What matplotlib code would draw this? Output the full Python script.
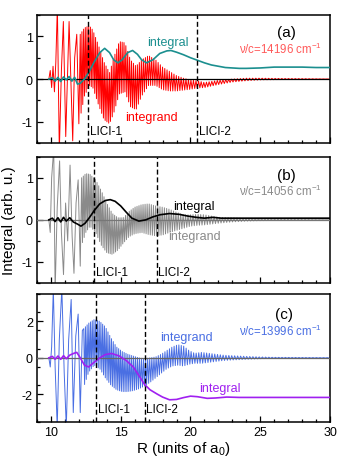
import numpy as np
import matplotlib
matplotlib.use("Agg")
import matplotlib.pyplot as plt

plt.rcParams['font.family'] = ['Liberation Sans', 'DejaVu Sans']
plt.rcParams['mathtext.fontset'] = 'custom'
plt.rcParams['mathtext.rm'] = 'Liberation Sans'
plt.rcParams['axes.unicode_minus'] = False

# ---- data ----
# local oscillation length of the integrand (shared by all panels)
per_R = [12.0, 15.0, 20.0, 25.0, 30.0]
per_len = [0.12, 0.13, 0.18, 0.23, 0.26]

# (a) nu/c = 14196
a_spike_R = [9.85, 9.95, 10.05, 10.15, 10.25, 10.35, 10.46, 10.6, 10.75, 10.89, 11.06, 11.18,
             11.3, 11.45, 11.56, 11.7, 11.85, 12.0]
a_spike_v = [0.0, 0.2, -0.2, 0.3, -0.3, 0.4, 1.7, -1.7, 0.2, 1.35, -1.35, 0.0,
             1.35, -0.3, -1.45, 0.5, 1.05, -1.05]
a_env_R = [12.1, 12.4, 12.75, 13.0, 13.4, 13.8, 14.2, 14.5, 14.9, 15.3, 15.7, 16.1, 16.5, 17.0,
           17.5, 18.0, 18.5, 19.0, 19.5, 20.0, 20.5, 21.0, 22.0, 23.0, 24.0, 25.0, 26.0, 28.0, 30.0]
a_env_U = [1.05, 1.2, 1.25, 1.15, 0.8, 0.4, 0.15, 0.5, 0.88, 0.85, 0.45, 0.3, 0.45, 0.55,
           0.45, 0.28, 0.18, 0.08, 0.02, -0.02, -0.04, -0.08, -0.03, 0.0, 0.02, 0.02, 0.015, 0.01, 0.0]
a_env_L = [-0.9, -0.4, -0.15, -0.2, -0.6, -0.95, -1.05, -0.8, -0.35, -0.3, -0.65, -0.72, -0.4,
           -0.15, -0.15, -0.25, -0.28, -0.28, -0.26, -0.24, -0.21, -0.2, -0.13, -0.07, -0.04,
           -0.02, -0.015, -0.01, 0.0]
a_int_R = [9.85, 10.1, 10.3, 10.5, 10.7, 10.9, 11.1, 11.3, 11.5, 11.7, 11.9, 12.1, 12.4, 12.75,
           13.1, 13.5, 13.85, 14.2, 14.5, 14.8, 15.1, 15.5, 15.85, 16.2, 16.5, 16.85, 17.3, 17.8,
           18.3, 18.6, 19.0, 19.5, 20.0, 20.5, 21.0, 21.5, 22.0, 22.5, 23.0, 23.5, 24.0, 25.0,
           26.0, 27.0, 28.0, 29.0, 30.0]
a_int_v = [0.0, 0.03, -0.05, 0.04, -0.06, 0.05, -0.02, 0.06, -0.05, 0.04, -0.12, -0.1, 0.0,
           0.18, 0.4, 0.62, 0.72, 0.62, 0.45, 0.38, 0.45, 0.62, 0.67, 0.58, 0.45, 0.38, 0.45,
           0.6, 0.66, 0.67, 0.63, 0.57, 0.5, 0.44, 0.38, 0.33, 0.3, 0.27, 0.26, 0.25, 0.25, 0.26,
           0.28, 0.28, 0.28, 0.27, 0.27]

# (b) nu/c = 14056
b_spike_R = [9.85, 9.95, 10.05, 10.2, 10.3, 10.45, 10.62, 10.75, 10.9, 11.05, 11.2, 11.37,
             11.52, 11.65, 11.8, 11.95, 12.1]
b_spike_v = [0.0, -0.3, 1.0, 1.7, -1.7, 0.3, 1.4, -0.3, -1.3, 0.4, -0.5, 1.3,
             -0.4, -1.27, 0.4, 0.95, -1.1]
b_env_R = [12.2, 12.5, 12.8, 13.2, 13.6, 14.0, 14.4, 14.8, 15.2, 15.6, 16.0, 16.5, 17.0, 17.5,
           18.0, 18.5, 19.0, 19.5, 20.0, 20.5, 21.0, 21.5, 22.0, 23.0, 24.0, 25.0, 26.0, 28.0, 30.0]
b_env_U = [1.0, 1.1, 1.08, 0.95, 0.7, 0.4, 0.15, 0.05, 0.05, 0.2, 0.3, 0.36, 0.38, 0.33, 0.3,
           0.25, 0.18, 0.12, 0.12, 0.13, 0.12, 0.09, 0.06, 0.05, 0.03, 0.02, 0.015, 0.01, 0.0]
b_env_L = [-0.6, -0.3, -0.15, -0.3, -0.6, -0.78, -0.82, -0.72, -0.55, -0.4, -0.33, -0.3,
           -0.35, -0.38, -0.36, -0.3, -0.25, -0.2, -0.15, -0.13, -0.12, -0.1, -0.08, -0.05,
           -0.03, -0.02, -0.015, -0.01, 0.0]
b_int_R = [9.85, 10.1, 10.3, 10.5, 10.7, 10.9, 11.1, 11.35, 11.6, 11.9, 12.15, 12.45, 12.75,
           13.1, 13.5, 13.9, 14.25, 14.6, 15.0, 15.4, 15.8, 16.3, 16.8, 17.3, 17.8, 18.5, 19.2,
           19.8, 20.4, 21.0, 21.6, 22.2, 23.0, 24.0, 26.0, 28.0, 30.0]
b_int_v = [0.0, 0.04, -0.04, 0.05, -0.05, 0.06, -0.03, 0.05, -0.05, -0.1, -0.15, -0.08, 0.05,
           0.22, 0.38, 0.46, 0.48, 0.44, 0.33, 0.18, 0.04, -0.03, 0.0, 0.07, 0.12, 0.15, 0.13,
           0.09, 0.06, 0.04, 0.06, 0.04, 0.04, 0.04, 0.04, 0.04, 0.04]

# (c) nu/c = 13996
c_spike_R = [9.85, 9.95, 10.05, 10.17, 10.3, 10.45, 10.6, 10.78, 10.95, 11.1, 11.27, 11.45,
             11.6, 11.78, 11.95, 12.1, 12.25]
c_spike_v = [0.0, -0.5, 0.6, 3.8, -0.5, -3.8, 1.0, 3.8, -0.8, -3.8, 1.0, 3.2,
             -3.0, 1.2, 2.4, -3.0, 1.5]
c_env_R = [12.35, 12.7, 13.1, 13.5, 13.9, 14.3, 14.7, 15.1, 15.5, 15.9, 16.3, 16.7, 17.1, 17.5,
           17.9, 18.3, 18.7, 19.1, 19.5, 19.9, 20.3, 20.8, 21.3, 21.8, 22.3, 23.0, 24.0, 25.0,
           26.0, 28.0, 30.0]
c_env_U = [1.6, 1.9, 2.1, 2.0, 1.7, 1.1, 0.6, 0.35, 0.2, 0.1, 0.0, -0.05, 0.0, 0.05, 0.2, 0.4,
           0.6, 0.72, 0.65, 0.4, 0.25, 0.3, 0.25, 0.2, 0.15, 0.12, 0.08, 0.05, 0.03, 0.02, 0.01]
c_env_L = [-1.6, -0.8, -0.4, -0.6, -1.1, -1.5, -1.75, -1.85, -1.85, -1.8, -1.7, -1.55, -1.35,
           -1.1, -0.85, -0.6, -0.45, -0.4, -0.45, -0.35, -0.3, -0.3, -0.25, -0.2, -0.15, -0.12,
           -0.08, -0.05, -0.03, -0.02, -0.01]
c_int_R = [9.85, 10.1, 10.3, 10.5, 10.7, 10.9, 11.1, 11.35, 11.65, 11.85, 12.1, 12.4, 12.7,
           13.0, 13.5, 13.9, 14.35, 14.9, 15.4, 15.9, 16.2, 16.5, 16.7, 17.1, 17.6, 18.0, 18.5,
           19.0, 19.5, 20.0, 20.5, 21.2, 21.8, 22.6, 23.5, 25.0, 27.0, 30.0]
c_int_v = [0.0, 0.08, -0.08, 0.1, -0.08, 0.12, -0.05, 0.15, 0.25, 0.3, 0.0, -0.4, -0.5,
           -0.3, 0.0, 0.18, 0.24, 0.1, -0.15, -0.5, -0.85, -1.2, -1.45, -1.75, -1.98, -2.15,
           -2.3, -2.28, -2.18, -2.1, -2.13, -2.22, -2.2, -2.15, -2.17, -2.17, -2.17, -2.17]

lici_a = [12.68, 20.5]
lici_b = [13.1, 17.58]
lici_c = [13.25, 16.72]

labels = ['(a)', '(b)', '(c)']
freqs = ['14196', '14056', '13996']


def integrand_line(spike_R, spike_v, env_R, env_U, env_L):
    """early single spikes, then the fast oscillation between the read envelopes"""
    xs = list(spike_R)
    ys = list(spike_v)
    r = env_R[0]
    k = 0
    while r <= env_R[-1]:
        xs.append(r)
        ys.append(np.interp(r, env_R, env_U if k % 2 == 0 else env_L))
        r += np.interp(r, per_R, per_len) / 2.0
        k += 1
    return xs, ys


panels = [
    dict(spk=(a_spike_R, a_spike_v), env=(a_env_R, a_env_U, a_env_L), integ=(a_int_R, a_int_v),
         lici=lici_a, c_ig='#ff0000', c_in='#1b8f8f', c_txt='#ff5a5a', zero='black',
         ylim=(-1.5, 1.5), ymaj=1, ymin=0.5, ylic=-1.22,
         t_int=(18.35, 0.86), t_ig=(17.17, -0.88), t_lab=(26.9, 1.1), t_nu=(29.4, 0.73)),
    dict(spk=(b_spike_R, b_spike_v), env=(b_env_R, b_env_U, b_env_L), integ=(b_int_R, b_int_v),
         lici=lici_b, c_ig='#8a8a8a', c_in='black', c_txt='#8a8a8a', zero='#777777',
         ylim=(-1.5, 1.5), ymaj=1, ymin=0.5, ylic=-1.23,
         t_int=(20.25, 0.33), t_ig=(20.3, -0.38), t_lab=(26.85, 1.06), t_nu=(29.4, 0.7)),
    dict(spk=(c_spike_R, c_spike_v), env=(c_env_R, c_env_U, c_env_L), integ=(c_int_R, c_int_v),
         lici=lici_c, c_ig='#4a6fe3', c_in='#a020f0', c_txt='#4a6fe3', zero='#666666',
         ylim=(-3.5, 3.5), ymaj=2, ymin=1, ylic=-2.78,
         t_int=(22.1, -1.67), t_ig=(19.73, 1.16), t_lab=(26.7, 2.41), t_nu=(29.4, 1.49)),
]

fig = plt.figure(figsize=(3.48, 4.6), dpi=100)
boxes = [[0.1063, 0.687, 0.842, 0.278],
         [0.1063, 0.3826, 0.842, 0.2746],
         [0.1063, 0.0811, 0.842, 0.2776]]

for i, p in enumerate(panels):
    ax = fig.add_axes(boxes[i])
    xs, ys = integrand_line(*p['spk'], *p['env'])
    ax.plot(xs, ys, color=p['c_ig'], lw=0.7, zorder=2)
    ax.axhline(0, color=p['zero'], lw=0.9, zorder=3)
    ax.plot(p['integ'][0], p['integ'][1], color=p['c_in'], lw=1.2, zorder=4)
    for j, r in enumerate(p['lici']):
        ax.axvline(r, color='black', lw=1.0, dashes=(3.6, 2.0), zorder=5)
        ax.text(r + 0.12, p['ylic'], 'LICI-%d' % (j + 1), fontsize=8.5,
                ha='left', va='center', zorder=6)

    ax.text(*p['t_int'], 'integral', color=p['c_in'], fontsize=9, ha='center', va='center')
    ax.text(*p['t_ig'], 'integrand', color=p['c_ig'], fontsize=9, ha='center', va='center')
    ax.text(*p['t_lab'], labels[i], fontsize=11, ha='center', va='center')
    ax.text(*p['t_nu'], '\u03bd/c=%s cm$^{\\mathregular{-1}}$' % freqs[i], color=p['c_txt'],
            fontsize=8.3, ha='right', va='center')

    ax.set_xlim(9, 30)
    ax.set_ylim(*p['ylim'])
    ax.set_xticks(np.arange(10, 31, 5))
    ax.set_xticks(np.arange(9, 31, 1), minor=True)
    ax.set_yticks(np.arange(-p['ymaj'], p['ymaj'] + 0.1, p['ymaj']))
    ax.set_yticks(np.arange(p['ylim'][0], p['ylim'][1] + 0.01, p['ymin']), minor=True)
    ax.set_yticklabels(['%d' % v for v in np.arange(-p['ymaj'], p['ymaj'] + 0.1, p['ymaj'])])
    ax.tick_params(which='both', direction='in', top=False, right=False, labelsize=9,
                   width=0.9, pad=3)
    ax.tick_params(which='major', length=4.5)
    ax.tick_params(which='minor', length=2.5)
    for s in ax.spines.values():
        s.set_linewidth(1.1)
    if i < 2:
        ax.set_xticklabels([])
    else:
        ax.set_xlabel('R (units of a$_{\\mathregular{0}}$)', fontsize=11, labelpad=1)

fig.text(0.026, 0.52, 'Integral (arb. u.)', rotation=90, fontsize=11, ha='center', va='center')

fig.savefig('out.png', dpi=100)
